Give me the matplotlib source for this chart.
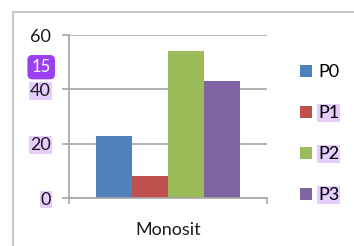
import matplotlib
matplotlib.use('Agg')
import matplotlib.pyplot as plt
from matplotlib.lines import Line2D

# data
category = 'Monosit'
series = ['P0', 'P1', 'P2', 'P3']
values = [23, 8, 54, 43]
colors = ['#4F81BD', '#C0504D', '#9BBB59', '#8064A2']
yticks = [0, 20, 40, 60]

plt.rcParams['font.family'] = ['Lato', 'DejaVu Sans']
grid_col = '#A6A6A6'
hl = '#E6CCFF'
fs = 13

fig = plt.figure(figsize=(3.54, 2.46), dpi=100)
ax = fig.add_axes([0.1949, 0.1951, 0.5593, 0.6626])

w = 0.727 / len(series)
for i, (s, v, c) in enumerate(zip(series, values, colors)):
    ax.bar((i - 1.5) * w, v, width=w, color=c, label=s, zorder=2)

ax.set_xlim(-0.5, 0.5)
ax.set_ylim(0, 60)
ax.set_yticks(yticks)
ax.set_xticks([0])
ax.set_xticklabels([category])
ax.set_xticks([-0.5, 0.5], minor=True)

ax.yaxis.grid(True, color=grid_col, linewidth=1.2, zorder=0)
for sp in ['top', 'right']:
    ax.spines[sp].set_visible(False)
for sp in ['left', 'bottom']:
    ax.spines[sp].set_color(grid_col)
    ax.spines[sp].set_linewidth(1.2)

ax.tick_params(axis='y', length=5, width=1.2, color=grid_col, pad=8, labelsize=fs, labelcolor='#1a1a1a')
ax.tick_params(axis='x', which='major', length=0, pad=17, labelsize=fs, labelcolor='#1a1a1a')
ax.tick_params(axis='x', which='minor', length=4, width=1.2, color=grid_col)

for t in ax.get_yticklabels():
    if t.get_text() in ('0', '20', '40'):
        t.set_bbox(dict(facecolor=hl, edgecolor='none', pad=0.5))

leg = ax.legend(loc='upper left', bbox_to_anchor=(1.13, 0.865), frameon=False,
                handlelength=0.65, handleheight=0.65, handletextpad=0.35,
                labelspacing=1.38, fontsize=fs, borderaxespad=0)
for t in leg.get_texts():
    if t.get_text() != 'P0':
        t.set_bbox(dict(facecolor=hl, edgecolor='none', pad=0.5))

# badge
fig.text(0.1164, 0.727, '15', ha='center', va='center', color='white', fontsize=12,
         bbox=dict(boxstyle='round,pad=0.25,rounding_size=0.3', facecolor='#9B3FF2', edgecolor='none'))

# outer frame
fig.add_artist(Line2D([0.0367, 1.0], [0.951, 0.951], color='#C8C8C8', linewidth=1.5))
fig.add_artist(Line2D([0.0367, 0.0367], [0.0, 0.951], color='#C8C8C8', linewidth=1.5))

fig.savefig('out.png', dpi=100)
